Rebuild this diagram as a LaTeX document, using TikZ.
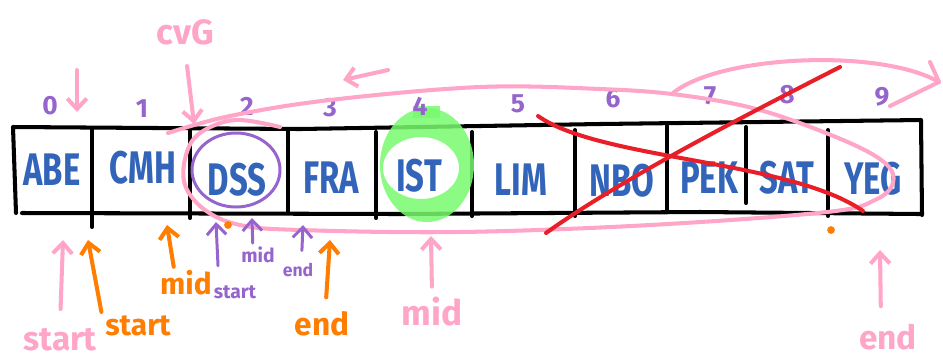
\documentclass[tikz,border=0pt]{standalone}
\usepackage{fontspec}
\setmainfont{Fira Sans}
\usetikzlibrary{arrows.meta}

\definecolor{inkblue}{RGB}{50,100,185}
\definecolor{inkpurple}{RGB}{150,100,205}
\definecolor{inkpink}{RGB}{255,165,200}
\definecolor{inkorange}{RGB}{255,125,0}
\definecolor{inkred}{RGB}{232,30,40}
\definecolor{inkgreen}{RGB}{120,250,110}

\newcommand{\code}[1]{\scalebox{0.72}[1]{#1}}

\begin{document}
\begin{tikzpicture}[x=0.02cm,y=-0.02cm,line cap=round,line join=round,
    pen/.style={line width=2.3pt},
    thinpen/.style={line width=1.7pt},
    arr/.style={-{Straight Barb[length=6pt,width=11pt]}},
    cell/.style={text=inkblue,font=\fontsize{26}{26}\selectfont\bfseries},
    idx/.style={text=inkpurple,font=\fontsize{15}{15}\selectfont\bfseries},
    note/.style={inner sep=2pt,font=\fontsize{#1}{#1}\selectfont\bfseries},
    note/.default=18]
    \useasboundingbox (0,0) rectangle (943,360);

    % the array itself
    \draw [pen] (16,213) -- (13,127) -- (300,129) -- (600,124) -- (921,120) -- (922,215);
    \draw [pen] (22,213) -- (400,214) -- (700,212) -- (920,214);
    \foreach \x/\t/\b in {92/128/227, 190/130/218, 288/130/213, 376/132/218, 472/132/216,
        575/130/216, 667/126/210, 746/127/203, 828/130/216}
        \draw [pen] (\x,\t) -- (\x,\b);

    % highlighter on IST
    \fill [inkgreen,opacity=.85,even odd rule] (427,165) ellipse [x radius=47, y radius=57]
        (421,168) ellipse [x radius=38, y radius=31];
    \fill [inkgreen,opacity=.85] (413,106) rectangle (440,118);

    \foreach \n/\x/\y in {ABE/52/170, CMH/143/168, DSS/237/180, FRA/331/178, IST/419/176,
        LIM/521/180, NBO/622/181, PEK/709/178, SAT/787/178, YEG/873/179}
        \node [cell] (\n) at (\x,\y) {\code{\n}};

    \foreach \i/\x/\y in {0/50/106, 1/142/109, 2/247/106, 3/330/108, 4/420/106,
        5/518/104, 6/613/99, 7/710/96, 8/787/95, 9/882/97}
        \node [idx] (i\i) at (\x,\y) {\i};

    % first search: pink
    \draw [pen,inkpink] plot [smooth,tension=.6] coordinates {(168,133) (230,116) (330,100) (480,87)
        (600,89) (680,95) (760,110) (843,140) (885,163) (893,183) (875,200) (827,212) (650,225)
        (460,232) (300,230) (240,225) (205,210) (185,185) (186,155) (200,133) (235,120) (280,127)};
    \draw [pen,inkpink] (673,93) .. controls (720,55) and (880,48) .. (939,82);
    \draw [pen,inkpink] (930,62) -- (939,82) -- (890,106);
    \coordinate (zt) at (77,70);
    \coordinate (zh) at (77,112);
    \draw [pen,arr,inkpink] (zt) -- (zh);
    \coordinate (lt) at (388,70);
    \coordinate (lh) at (343,80);
    \draw [pen,arr,inkpink] (lt) -- (lh);

    \node [note=20,text=inkpink] (cvg) at (185,32) {cvG};
    \coordinate (cvgtip) at (194,124);
    \draw [pen,arr,inkpink,shorten <=10pt] (cvg.south) -- (cvgtip);

    \node [note=19,text=inkpink] (pstart) at (60,340) {start};
    \node [note=20,text=inkpink] (pmid) at (432,312) {mid};
    \node [note=19,text=inkpink] (pend) at (888,337) {end};
    \coordinate (ptip0) at (63,240);
    \coordinate (ptip4) at (431,236);
    \coordinate (ptip9) at (880,250);
    \draw [pen,arr,inkpink,shorten <=9pt] (pstart.north) -- (ptip0);
    \draw [pen,arr,inkpink,shorten <=4pt] (pmid.north) -- (ptip4);
    \draw [pen,arr,inkpink,shorten <=8pt] ([xshift=-4pt]pend.north) -- (ptip9);

    % second search: orange
    \node [note=17,text=inkorange] (ostart) at (138,326) {start};
    \node [note=17,text=inkorange] (omid) at (186,283) {mid};
    \node [note=18,text=inkorange] (oend) at (322,324) {end};
    \coordinate (otip0) at (88,240);
    \coordinate (otip1) at (167,225);
    \coordinate (otip3) at (330,240);
    \draw [pen,arr,inkorange] (ostart.north west) -- (otip0);
    \draw [pen,arr,inkorange] ([xshift=-7pt]omid.north) -- (otip1);
    \draw [pen,arr,inkorange,shorten <=6pt] ([xshift=2pt]oend.north) -- (otip3);
    \fill [inkorange] (228,225) circle [radius=2.2pt];
    \fill [inkorange] (831,230) circle [radius=2.2pt];

    % third search: purple
    \draw [thinpen,inkpurple] (236,170) ellipse [x radius=44, y radius=37];
    \node [note=11,text=inkpurple] (ustart) at (235,292) {start};
    \node [note=11,text=inkpurple] (umid) at (258,255) {mid};
    \node [note=10,text=inkpurple] (uend) at (298,270) {end};
    \coordinate (utip2) at (216,222);
    \coordinate (utip2m) at (252,218);
    \coordinate (utip3) at (303,225);
    \draw [thinpen,arr,inkpurple,shorten <=9pt] ([xshift=5pt]ustart.north west) -- (utip2);
    \draw [thinpen,arr,inkpurple] ([xshift=-3pt]umid.north) -- (utip2m);
    \draw [thinpen,arr,inkpurple,shorten <=5pt] ([xshift=2pt]uend.north) -- (utip3);

    % crossed out
    \draw [pen,inkred] (538,116) .. controls (600,160) and (790,160) .. (863,211);
    \draw [pen,inkred] (546,233) .. controls (620,180) and (740,118) .. (840,67);
\end{tikzpicture}
\end{document}
